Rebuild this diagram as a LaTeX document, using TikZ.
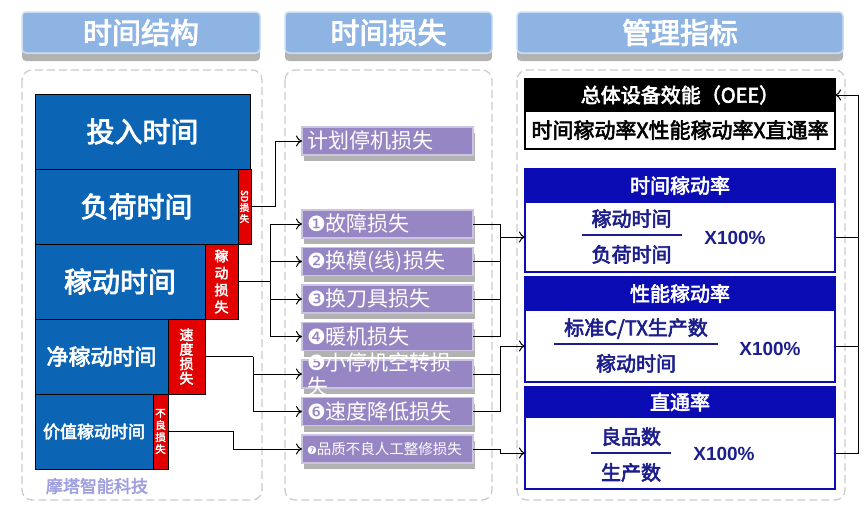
\documentclass[tikz,border=0pt]{standalone}
\usepackage{fontspec}
\usepackage{graphicx}
\setmainfont{Noto Sans CJK SC}[BoldFont={Noto Sans CJK SC},BoldFeatures={FakeBold=3}]
\newfontfamily\symfont{DejaVu Sans}
\newfontfamily\numfont{Liberation Sans}
\usetikzlibrary{positioning,shadows,arrows.meta}
\definecolor{hdblue}{RGB}{141,180,226}
\definecolor{blkblue}{RGB}{12,100,180}
\definecolor{lossred}{RGB}{226,0,0}
\definecolor{lilac}{RGB}{150,134,196}
\definecolor{ratblue}{RGB}{12,12,180}
\definecolor{navy}{RGB}{28,30,140}
\definecolor{markcol}{RGB}{160,160,225}
\setlength{\arrayrulewidth}{2pt}
\setlength{\tabcolsep}{10pt}

\begin{document}
\begin{tikzpicture}[x=1pt,y=-1pt,line width=1pt,>={To[length=6pt,width=11pt]},
	every node/.style={inner sep=0pt,outer sep=0pt},
	hd/.style={anchor=north west,minimum height=41pt,rounded corners=4pt,fill=hdblue,draw=white!55!hdblue,line width=1.5pt,text=white,font=\fontsize{29}{29}\selectfont\bfseries,drop shadow={shadow xshift=0pt,shadow yshift=-8pt,opacity=.3,fill=black}},
	blk/.style={anchor=north west,draw=black,fill=blkblue,text=white,minimum height=75pt,line width=1pt},
	loss/.style={anchor=north west,draw=black,fill=lossred,text=white,minimum height=75pt,line width=1pt,align=center},
	lp/.style={anchor=north west,minimum width=171pt,minimum height=28pt,text width=161pt,inner xsep=5pt,align=left,fill=lilac,draw=white!50!lilac,line width=1.2pt,text=white,font=\fontsize{21}{24}\selectfont,drop shadow={shadow xshift=2pt,shadow yshift=-6pt,opacity=.3,fill=black}},
	rh/.style={anchor=north west,minimum width=310pt,fill=ratblue,draw=ratblue,line width=1.5pt,text=white,font=\fontsize{20}{20}\selectfont\bfseries},
	rb/.style={anchor=north west,minimum width=310pt,fill=white,draw=ratblue,line width=1.5pt},
	frac/.style={anchor=north,text=navy,font=\fontsize{20}{26}\selectfont\bfseries},
	pct/.style={text=navy,font=\numfont\fontsize{19}{19}\selectfont\bfseries},
	link/.style={line width=1pt},
	arr/.style={->,line width=1pt},
	panel/.style={draw=black!20,dash pattern=on 8pt off 4pt,line width=1.3pt,rounded corners=10pt}]
	\fill[white] (0,0) rectangle (864,504);
	\useasboundingbox (0,0) rectangle (864,504);
	\draw[panel] (22,70) rectangle (262,500);
	\draw[panel] (285,70) rectangle (492,500);
	\draw[panel] (517,70) rectangle (845,500);
	\node[hd,minimum width=238pt] (h1) at (22,12) {时间结构};
	\node[hd,minimum width=207pt] (h2) at (285,12) {时间损失};
	\node[hd,minimum width=326pt] (h3) at (517,12) {管理指标};
	\node[blk,minimum width=215pt,font=\fontsize{28}{28}\selectfont\bfseries] (t1) at (35,94) {投入时间};
	\node[blk,minimum width=203pt,below=0pt of t1.south west,anchor=north west,font=\fontsize{28}{28}\selectfont\bfseries] (t2) {负荷时间};
	\node[blk,minimum width=170pt,below=0pt of t2.south west,anchor=north west,font=\fontsize{28}{28}\selectfont\bfseries] (t3) {稼动时间};
	\node[blk,minimum width=133pt,below=0pt of t3.south west,anchor=north west,font=\fontsize{22}{22}\selectfont\bfseries] (t4) {净稼动时间};
	\node[blk,minimum width=118pt,below=0pt of t4.south west,anchor=north west,font=\fontsize{17}{17}\selectfont\bfseries] (t5) {价值稼动时间};
	\node[loss,minimum width=13pt,right=0pt of t2.north east,anchor=north west,font=\fontsize{9.5}{11}\selectfont\bfseries] (l1) {\rotatebox{-90}{SD}\\损\\失};
	\node[loss,minimum width=33pt,right=0pt of t3.north east,anchor=north west,font=\fontsize{14}{17}\selectfont\bfseries] (l2) {稼\\动\\损\\失};
	\node[loss,minimum width=37pt,right=0pt of t4.north east,anchor=north west,font=\fontsize{14}{14.5}\selectfont\bfseries] (l3) {速\\度\\损\\失};
	\node[loss,minimum width=15pt,right=0pt of t5.north east,anchor=north west,font=\fontsize{10.5}{12}\selectfont\bfseries] (l4) {不\\良\\损\\失};
	\node[text=markcol,font=\fontsize{17}{17}\selectfont\bfseries] (wm) at (97,486) {摩塔智能科技};
	\node[lp] (p0) at (302,127) {计划停机损失};
	\node[lp] (p1) at (302,210) {{\symfont ❶}故障损失};
	\node[lp,below=9.5pt of p1] (p2) {{\symfont ❷}换模(线)损失};
	\node[lp,below=9.5pt of p2] (p3) {{\symfont ❸}换刀具损失};
	\node[lp,below=9.5pt of p3] (p4) {{\symfont ❹}暖机损失};
	\node[lp,below=9.5pt of p4] (p5) {\raisebox{-20pt}[0pt][0pt]{\parbox[b]{161pt}{\baselineskip=24pt{\symfont ❺}小停机空转损\\失}}};
	\node[lp,below=9.5pt of p5] (p6) {{\symfont ❻}速度降低损失};
	\node[lp,below=9.5pt of p6,font=\fontsize{14.5}{14.5}\selectfont] (p7) {{\symfont\fontsize{11}{11}\selectfont ❼}品质不良人工整修损失};
	\node[rh,fill=black,draw=black,minimum height=32pt] (oeeh) at (525,79) {总体设备效能（OEE）};
	\node[rb,draw=black,minimum height=38pt,below=0pt of oeeh,font=\fontsize{21}{21}\selectfont\bfseries] (oeeb) {时间稼动率X性能稼动率X直通率};
	\node[rh,minimum height=33pt] (r1h) at (525,169) {时间稼动率};
	\node[rb,minimum height=70pt,below=0pt of r1h] (r1b) {};
	\node[frac] (f1) at (631.5,208) {\begin{tabular}{c}稼动时间\\\hline\rule{0pt}{26pt}负荷时间\end{tabular}};
	\node[pct] (x1) at (735,238) {X100\%};
	\node[rh,minimum height=33pt] (r2h) at (525,277) {性能稼动率};
	\node[rb,minimum height=72pt,below=0pt of r2h] (r2b) {};
	\node[frac] (f2) at (636,317) {\begin{tabular}{c}标准C/TX生产数\\\hline\rule{0pt}{26pt}稼动时间\end{tabular}};
	\node[pct] (x2) at (770,349) {X100\%};
	\node[rh,minimum height=30pt] (r3h) at (525,387) {直通率};
	\node[rb,minimum height=72pt,below=0pt of r3h] (r3b) {};
	\node[frac] (f3) at (631,426) {\begin{tabular}{c}良品数\\\hline\rule{0pt}{26pt}生产数\end{tabular}};
	\node[pct] (x3) at (724,454) {X100\%};
	\draw[arr] (l1.east) -- ++(24,0) |- (p0.west);
	\coordinate (j1) at ([xshift=32pt]l2.east);
	\draw[link] (l2.east) -- (j1);
	\foreach \n in {p1,p2,p3,p4} \draw[arr] (j1) |- (\n.west);
	\coordinate (j2) at ([xshift=48pt]l3.east);
	\draw[link] (l3.east) -- (j2);
	\foreach \n in {p5,p6} \draw[arr] (j2) |- (\n.west);
	\draw[arr] (l4.east) -- ++(65,0) |- (p7.west);
	\coordinate (j3) at ([xshift=-25pt]r1b.west);
	\foreach \n in {p1,p2,p3,p4} \draw[link] (\n.east) -| (j3);
	\draw[arr] (j3) -- (r1b.west);
	\coordinate (j4) at ([xshift=-25pt]r2b.west);
	\foreach \n in {p5,p6} \draw[link] (\n.east) -| (j4);
	\draw[arr] (j4) -- (r2b.west);
	\draw[arr] (p7.east) -- ++(27,0) |- (r3b.west);
	\coordinate (j5) at ([xshift=23pt]oeeh.east);
	\foreach \n in {r1b,r2b,r3b} \draw[link] (\n.east) -| (j5);
	\draw[arr] (j5) -- (oeeh.east);
\end{tikzpicture}
\end{document}
